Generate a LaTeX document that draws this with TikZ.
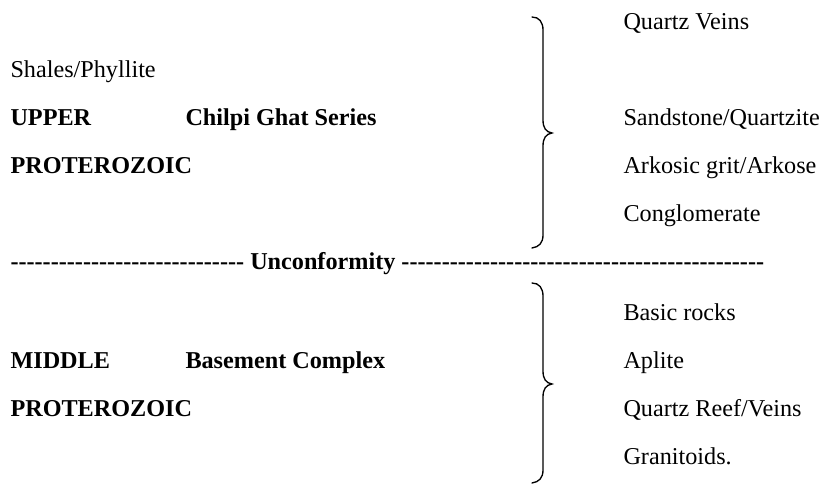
\documentclass[tikz,border=0pt]{standalone}
\usepackage{fontspec}
\setmainfont{Liberation Serif}[Ligatures=TeXOff]
\tikzset{every picture/.style={line width=0.75pt}}

\begin{document}
\begin{tikzpicture}[x=0.75pt,y=0.75pt,yscale=-1,xscale=1,
  txt/.style={anchor=base west,inner sep=0.75pt,font=\fontsize{18.15pt}{22pt}\selectfont},
  bftxt/.style={txt,font=\fontsize{18.15pt}{22pt}\selectfont\bfseries},
  brace/.style={line width=1pt,line cap=round}]
%set diagram to the reference size
\useasboundingbox (0,0) rectangle (823,484);

%Shape: Brace (upper)
\draw [brace] (532,17) .. controls (539,17) and (543,22) .. (543,30) -- (543,120) .. controls (543,128) and (546,132) .. (552,133) .. controls (546,134) and (543,138) .. (543,146) -- (543,235) .. controls (543,243) and (539,247) .. (532,248) ;
%Shape: Brace (lower)
\draw [brace] (532,283) .. controls (539,283) and (543,288) .. (543,296) -- (543,371) .. controls (543,379) and (546,383) .. (552,384) .. controls (546,385) and (543,389) .. (543,397) -- (543,470) .. controls (543,478) and (539,482) .. (532,483) ;

% Text Node
\draw (9,78) node [txt] (shales) {Shales/Phyllite};
% Text Node
\draw (9,126) node [bftxt] (upper) {UPPER};
% Text Node
\draw (184,126) node [bftxt] (chilpi) {Chilpi Ghat Series};
% Text Node
\draw (9,174) node [bftxt] (protup) {PROTEROZOIC};
% Text Node
\draw (622,30) node [txt] (qveins) {Quartz Veins};
% Text Node
\draw (622,126) node [txt] (sandst) {Sandstone/Quartzite};
% Text Node
\draw (622,174) node [txt] (arkose) {Arkosic grit/Arkose};
% Text Node
\draw (622,222) node [txt] (conglo) {Conglomerate};
% Text Node
\draw (9,270) node [bftxt] (unconf) {----------------------------- Unconformity ---------------------------------------------};
% Text Node
\draw (9,368) node [bftxt] (middle) {MIDDLE};
% Text Node
\draw (184,368) node [bftxt] (basement) {Basement Complex};
% Text Node
\draw (9,416) node [bftxt] (protmid) {PROTEROZOIC};
% Text Node
\draw (622,320) node [txt] (basic) {Basic rocks};
% Text Node
\draw (622,368) node [txt] (aplite) {Aplite};
% Text Node
\draw (622,416) node [txt] (qreef) {Quartz Reef/Veins};
% Text Node
\draw (622,464) node [txt] (granit) {Granitoids.};

\end{tikzpicture}
\end{document}
